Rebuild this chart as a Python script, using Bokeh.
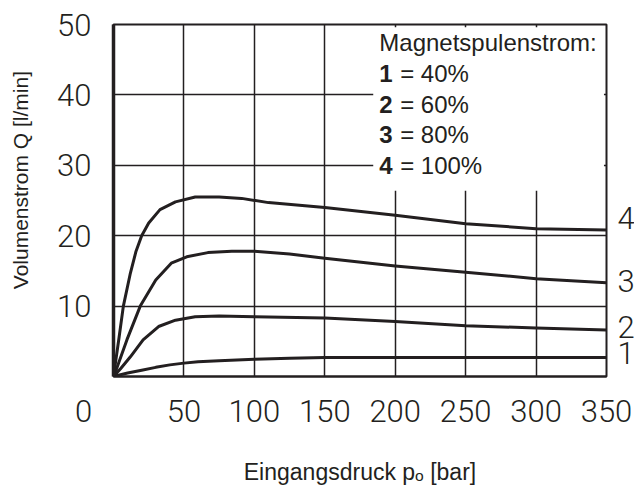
from bokeh.plotting import figure
from bokeh.models import (ColumnDataSource, Range1d, FixedTicker, LabelSet,
                          BoxAnnotation, LinearAxis)
from bokeh.core.properties import value
from bokeh.embed import file_html
from bokeh.resources import INLINE

# ---- data ----
x1 = [0, 10, 20, 30, 40, 50, 60, 75, 100, 125, 150, 200, 250, 300, 350]
y1 = [0, 0.5, 0.9, 1.3, 1.65, 1.9, 2.1, 2.25, 2.45, 2.6, 2.7, 2.7, 2.7, 2.7, 2.7]

x2 = [0, 5, 12, 21, 32, 44, 58, 75, 100, 150, 200, 250, 300, 350]
y2 = [0, 1.1, 2.8, 5.2, 7.1, 8.0, 8.5, 8.6, 8.5, 8.3, 7.8, 7.2, 6.9, 6.6]

x3 = [0, 2, 9.5, 19, 30, 41, 52, 67, 84, 100, 125, 150, 200, 250, 300, 350]
y3 = [0, 1.0, 5.2, 10, 13.7, 16.1, 17.0, 17.6, 17.8, 17.8, 17.4, 16.8, 15.7, 14.8, 13.9, 13.3]

x4 = [0, 4, 7, 12, 16, 20, 25, 33, 44, 58, 75, 91, 110, 150, 200, 250, 300, 350]
y4 = [0, 5.6, 10, 14.7, 17.8, 20, 21.8, 23.7, 24.8, 25.5, 25.5, 25.3, 24.7, 24.0, 22.9, 21.7, 21.0, 20.8]

curve_names = ["1", "2", "3", "4"]
legend_nums = ["1", "2", "3", "4"]
legend_pcts = ["40%", "60%", "80%", "100%"]
legend_title = "Magnetspulenstrom:"

x_ticks = [0, 50, 100, 150, 200, 250, 300, 350]
y_ticks = [10, 20, 30, 40, 50]

x_title = "Eingangsdruck p\u2092 [bar]"
y_title = "Volumenstrom Q [l/min]"

# ---- styles / layout ----
INK = "#231f20"
NUM_FONT = "Roboto Light, Lato Light, Roboto, sans-serif"
TXT_FONT = "Liberation Sans, Arial, sans-serif"
NUM_SIZE = "31px"
FRAME_H = 352
Y_MAX = 50
PX_PER_Y = FRAME_H / Y_MAX
label_lift_px = [4, 3, 2, 12]   # small upward nudges of the curve-end labels
NBSP = "\u00a0"

p = figure(frame_width=493, frame_height=FRAME_H,
           x_range=Range1d(0, 350), y_range=Range1d(0, Y_MAX),
           output_backend="svg", toolbar_location=None,
           min_border_left=113, min_border_top=24, min_border_right=0,
           min_border_bottom=0, background_fill_color="white",
           border_fill_color="white")

p.outline_line_color = INK
p.outline_line_width = 2
p.outline_line_alpha = 1

for ax in (p.xaxis, p.yaxis):
    ax.major_tick_out = 0
    ax.major_tick_in = 0
    ax.minor_tick_out = 0
    ax.minor_tick_in = 0
    ax.axis_line_color = INK
    ax.major_label_text_font = NUM_FONT
    ax.major_label_text_font_size = NUM_SIZE
    ax.major_label_text_color = INK
    ax.axis_label_text_font = TXT_FONT
    ax.axis_label_text_font_style = "normal"
    ax.axis_label_text_color = INK

p.xaxis.ticker = FixedTicker(ticks=x_ticks)
# origin label sits left of the corner: pad it with figure spaces
p.xaxis.major_label_overrides = {0: "0" + "\u2007" * 3 + NBSP}
p.yaxis.ticker = FixedTicker(ticks=y_ticks)
p.xaxis.axis_line_width = 2
p.yaxis.axis_line_width = 3.5
p.xaxis.major_label_standoff = 16
p.yaxis.major_label_standoff = 22
p.xaxis.axis_label = x_title
p.xaxis.axis_label_text_font_size = "23px"
p.xaxis.axis_label_standoff = 26
# y title sits a little above the frame centre in the reference: lead with spaces
p.yaxis.axis_label = NBSP * 7 + y_title
p.yaxis.axis_label_text_font_size = "21px"
p.yaxis.axis_label_standoff = 22

p.grid.grid_line_color = INK
p.grid.grid_line_width = 1.5
p.grid.grid_line_alpha = 1
p.xgrid.ticker = FixedTicker(ticks=x_ticks[1:])
p.ygrid.ticker = FixedTicker(ticks=y_ticks)

curves = ((x1, y1), (x2, y2), (x3, y3), (x4, y4))
for xs, ys in curves:
    p.line(xs, ys, line_color=INK, line_width=3, line_join="round", line_cap="round")

# curve-end labels on a right-hand axis
end_pos = [ys[-1] + d / PX_PER_Y for (xs, ys), d in zip(curves, label_lift_px)]
right = LinearAxis(ticker=FixedTicker(ticks=end_pos),
                   major_label_overrides={v: n for v, n in zip(end_pos, curve_names)})
right.axis_line_alpha = 0
right.major_tick_out = 0
right.major_tick_in = 0
right.minor_tick_out = 0
right.minor_tick_in = 0
right.major_label_standoff = 11
right.major_label_text_font = NUM_FONT
right.major_label_text_font_size = NUM_SIZE
right.major_label_text_color = INK
p.add_layout(right, "right")

# legend box (white) and texts
p.add_layout(BoxAnnotation(left=184.4, right=348.2, bottom=26.4, top=49.6,
                           fill_color="white", fill_alpha=1, line_alpha=0))
LX = 188.7
EQX = 203.5
head = ColumnDataSource(dict(x=[LX], y=[46.2], text=[legend_title]))
p.add_layout(LabelSet(x="x", y="y", text="text", source=head, text_align="left",
                      text_baseline="alphabetic", text_font=value(TXT_FONT),
                      text_font_size=value("24px"), text_color=INK))
base_y = [41.8, 37.5, 33.2, 28.8]
leg = ColumnDataSource(dict(
    x=[LX] * 4, xe=[EQX] * 4, y=base_y,
    num=legend_nums, rest=["= " + s for s in legend_pcts],
))
p.add_layout(LabelSet(x="x", y="y", text="num", source=leg, text_align="left",
                      text_baseline="alphabetic", text_font=value(TXT_FONT),
                      text_font_style="bold", text_font_size=value("24px"),
                      text_color=INK))
p.add_layout(LabelSet(x="xe", y="y", text="rest", source=leg, text_align="left",
                      text_baseline="alphabetic", text_font=value(TXT_FONT),
                      text_font_size=value("24px"), text_color=INK))

open("out.html", "w").write(file_html(p, INLINE))
